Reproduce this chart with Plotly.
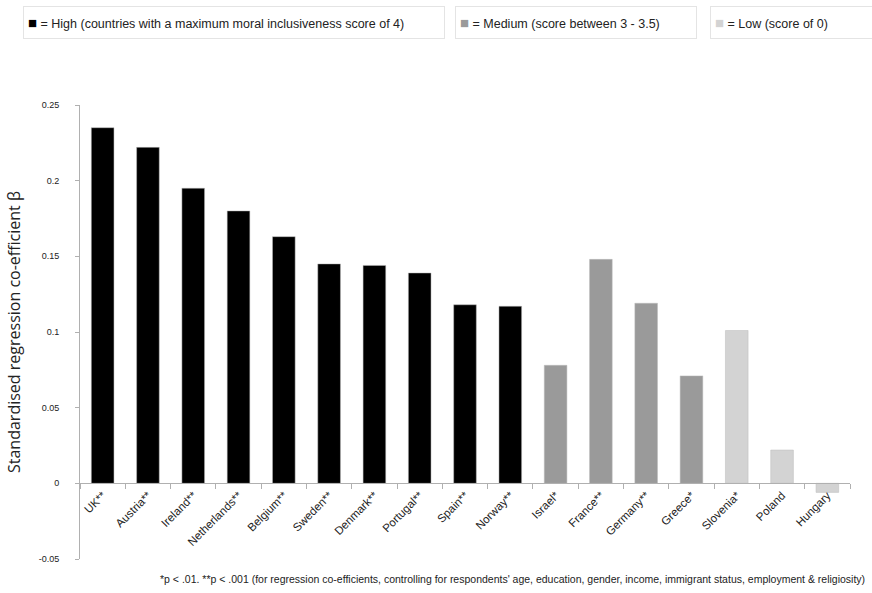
import plotly.graph_objects as go

countries = ["UK**", "Austria**", "Ireland**", "Netherlands**", "Belgium**", "Sweden**",
             "Denmark**", "Portugal**", "Spain**", "Norway**", "Israel*", "France**",
             "Germany**", "Greece*", "Slovenia*", "Poland", "Hungary"]
beta = [0.235, 0.222, 0.195, 0.180, 0.163, 0.145, 0.144, 0.139, 0.118, 0.117,
        0.078, 0.148, 0.119, 0.071, 0.101, 0.022, -0.006]
inclusiveness = ["High"] * 10 + ["Medium"] * 4 + ["Low"] * 3

group_colors = {"High": "#000000", "Medium": "#9a9a9a", "Low": "#d3d3d3"}
y_ticks = [-0.05, 0, 0.05, 0.1, 0.15, 0.2, 0.25]
y_tick_text = ["-0.05", "0", "0.05", "0.1", "0.15", "0.2", "0.25"]

legend_items = [
    ("High", "= High (countries with a maximum moral inclusiveness score of 4)"),
    ("Medium", "= Medium (score between 3 - 3.5)"),
    ("Low", "= Low (score of 0)"),
]
footnote = ("*p < .01. **p < .001 (for regression co-efficients, controlling for respondents' age, "
            "education, gender, income, immigrant status, employment &amp; religiosity)")

FONT = "Liberation Sans, Arial, sans-serif"

fig = go.Figure(go.Bar(
    x=countries,
    y=beta,
    marker=dict(color=[group_colors[g] for g in inclusiveness],
                line=dict(color="#bbbbbb", width=0.5)),
    width=0.5,
    showlegend=False,
))

L, R, T, B = 80, 22, 105, 34
W, H = 872, 593
pw, ph = W - L - R, H - T - B

def px_x(x):
    return (x - L) / pw

def px_y(y):
    return (H - B - y) / ph

# legend boxes across the top: (left edge, width) in pixels
boxes = [(23, 422), (455, 242), (710, 200)]
pad = 4
for (key, label), (left, width) in zip(legend_items, boxes):
    fig.add_annotation(
        xref="paper", yref="paper", x=px_x(left), y=px_y(22),
        xanchor="left", yanchor="middle",
        text=(f"<span style='color:{group_colors[key]};font-size:15px'>■</span>"
              f" {label}"),
        showarrow=False, align="left", width=width - 2 * pad - 2, height=33 - 2 * pad - 2,
        bordercolor="#e4e4e4", borderwidth=1, borderpad=pad, bgcolor="white",
        font=dict(family=FONT, size=12.5, color="#222"),
    )

fig.add_annotation(
    xref="paper", yref="paper", x=px_x(512), y=px_y(579),
    xanchor="center", yanchor="middle", text=footnote, showarrow=False,
    font=dict(family=FONT, size=10.5, color="#222"),
)

fig.update_layout(
    width=W, height=H,
    margin=dict(l=L, r=R, t=T, b=B),
    plot_bgcolor="white", paper_bgcolor="white",
    bargap=0.5,
    xaxis=dict(
        anchor="free", position=0.05 / 0.30,
        showline=True, linecolor="#b0b0b0", linewidth=1,
        ticks="outside", tickson="boundaries", ticklen=5, tickcolor="#b0b0b0",
        tickangle=-45, showgrid=False,
        tickfont=dict(family=FONT, size=11.5, color="#222"),
    ),
    yaxis=dict(
        range=[-0.05, 0.25], tickvals=y_ticks, ticktext=y_tick_text,
        showline=True, linecolor="#b0b0b0", linewidth=1,
        ticks="outside", ticklen=4, tickcolor="#b0b0b0",
        ticklabelstandoff=14,
        showgrid=False, zeroline=False,
        tickfont=dict(family=FONT, size=9, color="#222"),
        title=dict(text="Standardised regression co-efficient β", standoff=14,
                   font=dict(family="Open Sans, sans-serif", size=16, color="#222")),
    ),
)

fig.write_html("out.html")
